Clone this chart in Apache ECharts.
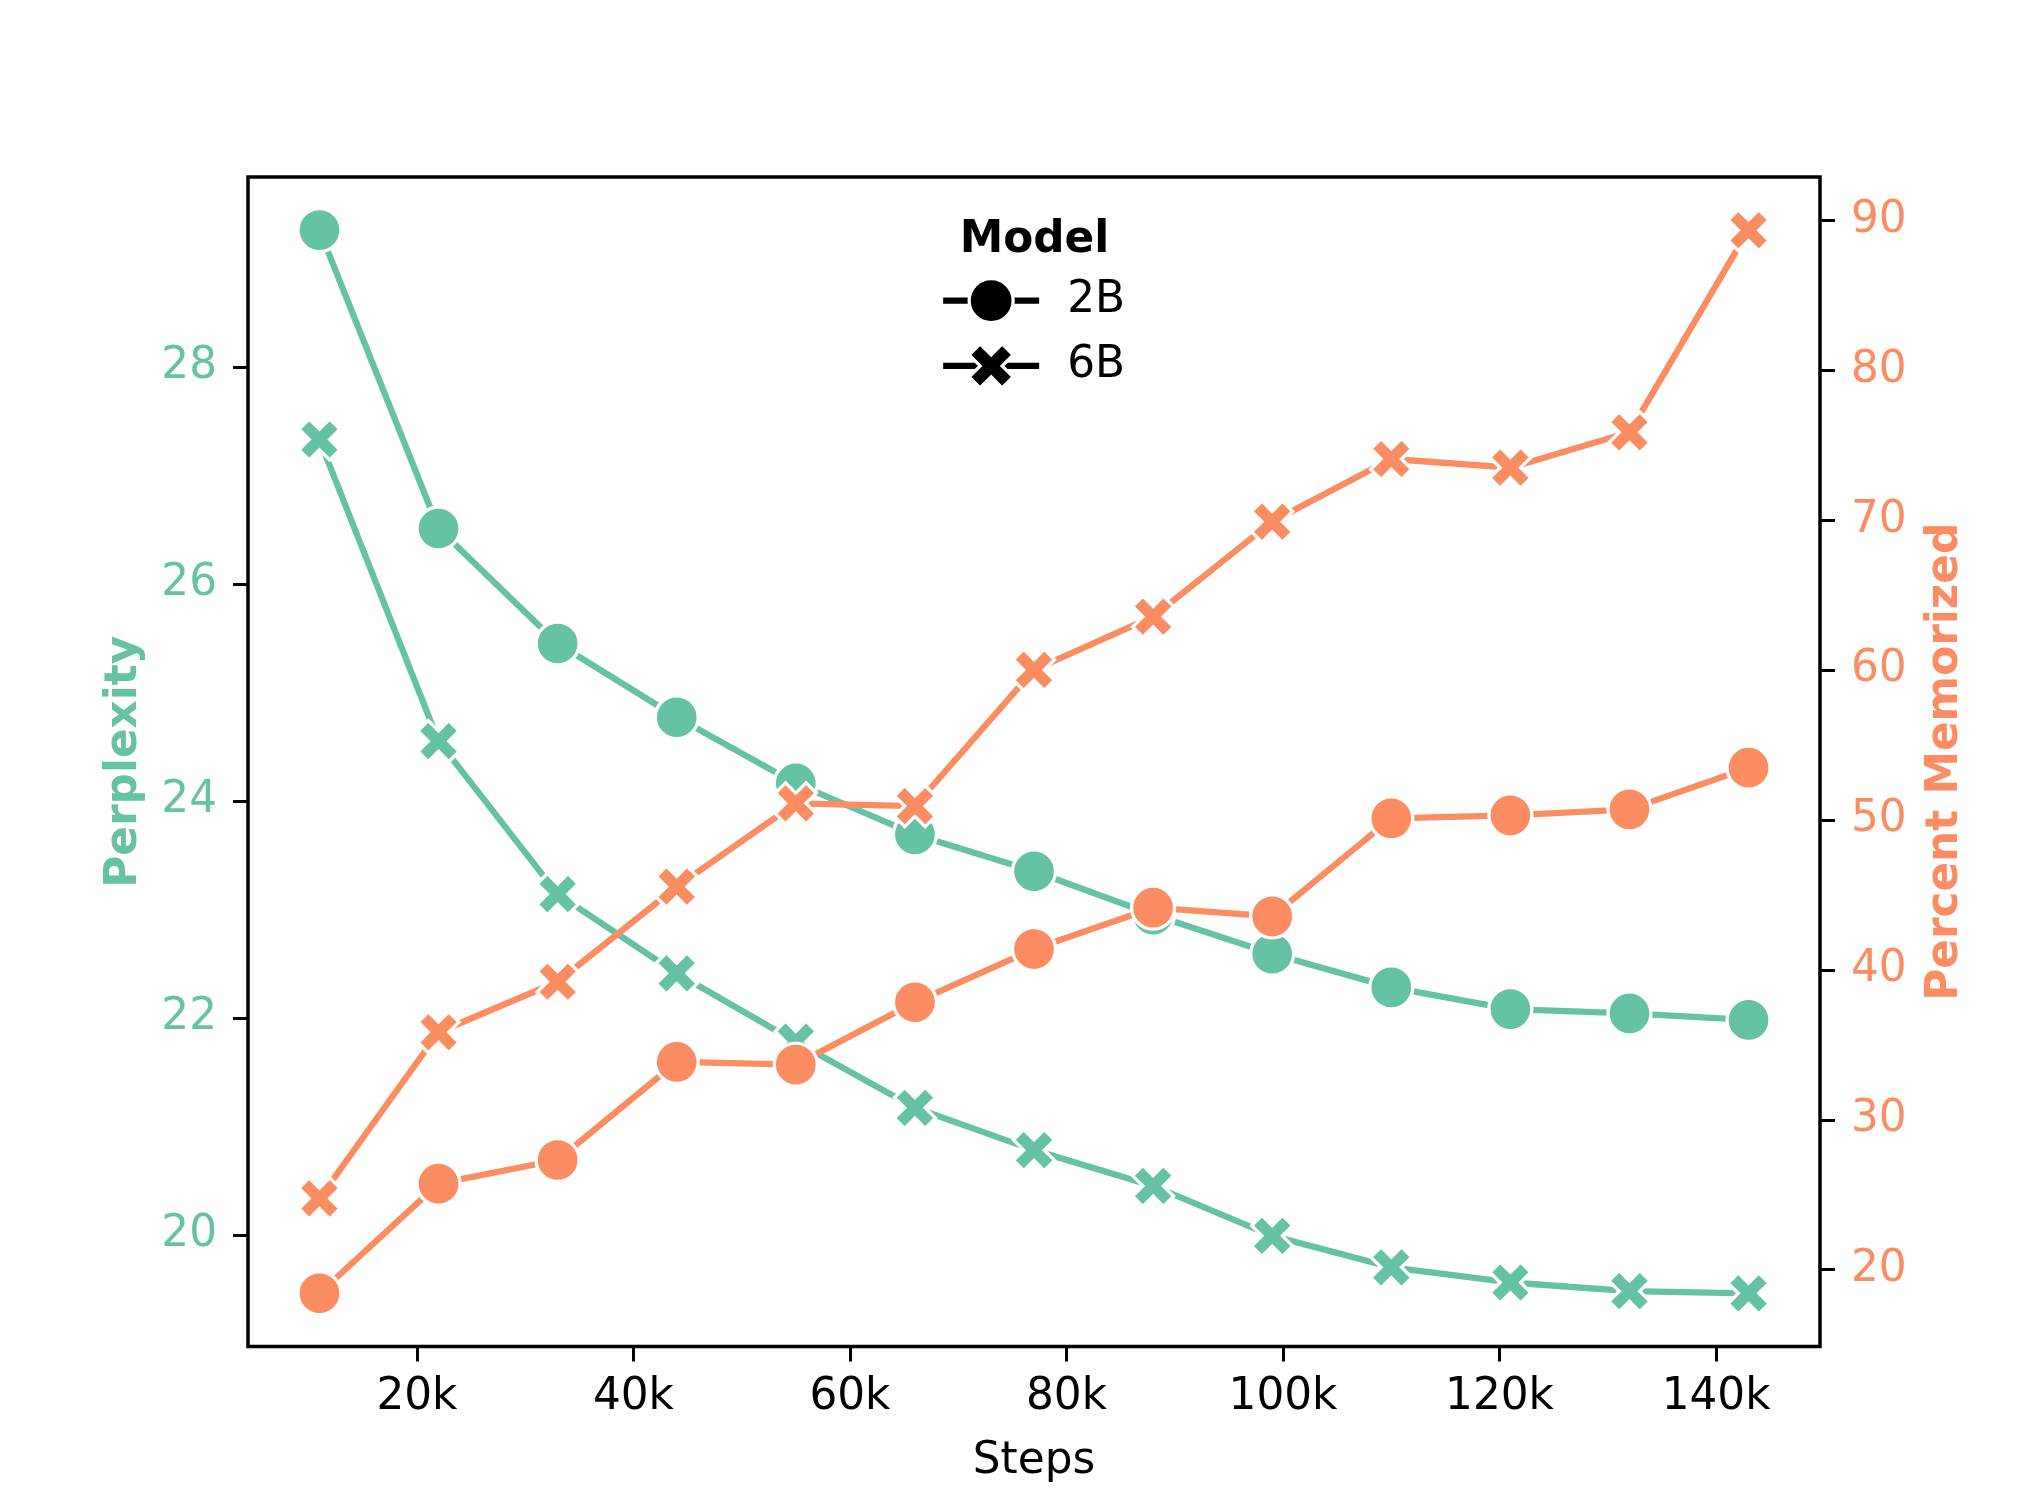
<!DOCTYPE html>
<html>
<head>
<meta charset="utf-8">
<script src="https://cdn.jsdelivr.net/npm/echarts@6/dist/echarts.min.js"></script>
<style>
  html, body { margin: 0; padding: 0; background: #fff; }
  #chart { width: 2017px; height: 1507px; }
</style>
</head>
<body>
<div id="chart"></div>
<script>
// ---- data ----
const steps = [11000, 22000, 33000, 44000, 55000, 66000, 77000, 88000, 99000, 110000, 121000, 132000, 143000];
const perplexity2B = [29.26, 26.51, 25.45, 24.77, 24.16, 23.69, 23.35, 22.95, 22.59, 22.28, 22.08, 22.04, 21.98];
const perplexity6B = [27.33, 24.55, 23.14, 22.41, 21.78, 21.17, 20.78, 20.45, 19.99, 19.70, 19.56, 19.48, 19.46];
const memorized2B = [18.43, 25.74, 27.32, 33.86, 33.68, 37.84, 41.39, 44.15, 43.57, 50.11, 50.31, 50.71, 53.49];
const memorized6B = [24.76, 35.84, 39.21, 45.55, 51.11, 50.93, 60.01, 63.56, 69.90, 74.08, 73.50, 75.86, 89.34];

const xTickValues = [20000, 40000, 60000, 80000, 100000, 120000, 140000];
const xTickLabels = ['20k', '40k', '60k', '80k', '100k', '120k', '140k'];
const leftTickValues = [20, 22, 24, 26, 28];
const rightTickValues = [20, 30, 40, 50, 60, 70, 80, 90];
const modelNames = ['2B', '6B'];

// ---- styling ----
const GREEN = '#66c2a5';
const ORANGE = '#fc8d62';
const FONT = 'DejaVu Sans';
const FS = 43.75;
const X_PATH = 'path://M6,0L8,2L6,4L8,6L6,8L4,6L2,8L0,6L2,4L0,2L2,0L4,2Z';
const LW = 6.3;
const EDGE = 3.3;

function pairs(vals) { return steps.map((s, i) => [s, vals[i]]); }

function mkSeries(name, vals, color, symbol, size, yIdx, z) {
  return {
    type: 'line', name: name, data: pairs(vals), yAxisIndex: yIdx, z: z,
    symbol: symbol, symbolSize: size, showSymbol: true,
    lineStyle: { color: color, width: LW },
    itemStyle: { color: color, borderColor: '#ffffff', borderWidth: EDGE, opacity: 1 },
    emphasis: { disabled: true }, animation: false
  };
}

const chart = echarts.init(document.getElementById('chart'), null, { renderer: 'canvas' });

const option = {
  backgroundColor: '#ffffff',
  animation: false,
  textStyle: { fontFamily: FONT },
  grid: {
    left: 248, right: 197, top: 177, bottom: 160.5,
    show: true, borderColor: '#000', borderWidth: 3.5, backgroundColor: 'transparent',
    outerBoundsMode: 'none'
  },
  graphic: [{
    type: 'text',
    style: { text: 'Model', x: 1034.5, y: 240.5, align: 'center', verticalAlign: 'middle',
             font: 'bold ' + FS + 'px "' + FONT + '"', fill: '#000' }
  }],
  legend: {
    data: modelNames,
    orient: 'vertical',
    left: 935, top: 272,
    itemWidth: 96, itemHeight: 55, itemGap: 18,
    selectedMode: false,
    lineStyle: { width: LW, color: '#000' },
    itemStyle: { color: '#000', borderColor: '#ffffff', borderWidth: EDGE },
    textStyle: { fontFamily: FONT, fontSize: FS, color: '#000', padding: [0, 0, 0, 23] }
  },
  xAxis: {
    type: 'value', min: 4400, max: 149600,
    name: 'Steps', nameLocation: 'middle', nameGap: 115,
    nameTextStyle: { fontFamily: FONT, fontSize: FS, color: '#000', verticalAlign: 'middle' },
    axisLine: { show: false },
    axisTick: { show: true, length: 15, lineStyle: { color: '#000', width: 3 }, customValues: xTickValues },
    axisLabel: {
      show: true, margin: 29.5, fontFamily: FONT, fontSize: FS, color: '#000',
      customValues: xTickValues,
      formatter: function (v) { const i = xTickValues.indexOf(v); return i >= 0 ? xTickLabels[i] : ''; }
    },
    splitLine: { show: false }
  },
  yAxis: [{
    type: 'value', position: 'left', min: 18.97, max: 29.75,
    name: 'Perplexity', nameLocation: 'middle', nameGap: 123, nameRotate: 90,
    nameTextStyle: { fontFamily: FONT, fontSize: FS, fontWeight: 'bold', color: GREEN, verticalAlign: 'middle' },
    axisLine: { show: false },
    axisTick: { show: true, length: 15, lineStyle: { color: '#000', width: 3 }, customValues: leftTickValues },
    axisLabel: { show: true, margin: 31, fontFamily: FONT, fontSize: FS, color: GREEN, customValues: leftTickValues },
    splitLine: { show: false }
  }, {
    type: 'value', position: 'right', min: 14.88, max: 92.89,
    name: 'Percent Memorized', nameLocation: 'middle', nameGap: 126, nameRotate: 90,
    nameTextStyle: { fontFamily: FONT, fontSize: FS, fontWeight: 'bold', color: ORANGE, verticalAlign: 'middle' },
    axisLine: { show: false },
    axisTick: { show: true, length: 15, lineStyle: { color: '#000', width: 3 }, customValues: rightTickValues },
    axisLabel: { show: true, margin: 31, fontFamily: FONT, fontSize: FS, color: ORANGE, customValues: rightTickValues },
    splitLine: { show: false }
  }],
  series: [
    // legend-only entries (black), no data
    Object.assign(mkSeries('2B', [], '#000', 'circle', 43, 0, 1), { data: [] }),
    Object.assign(mkSeries('6B', [], '#000', X_PATH, 41, 0, 1), { data: [] }),
    mkSeries('Perplexity 2B', perplexity2B, GREEN, 'circle', 43, 0, 2),
    mkSeries('Perplexity 6B', perplexity6B, GREEN, X_PATH, 41, 0, 2),
    mkSeries('Memorized 2B', memorized2B, ORANGE, 'circle', 43, 1, 3),
    mkSeries('Memorized 6B', memorized6B, ORANGE, X_PATH, 41, 1, 3)
  ]
};
chart.setOption(option);
</script>
</body>
</html>
